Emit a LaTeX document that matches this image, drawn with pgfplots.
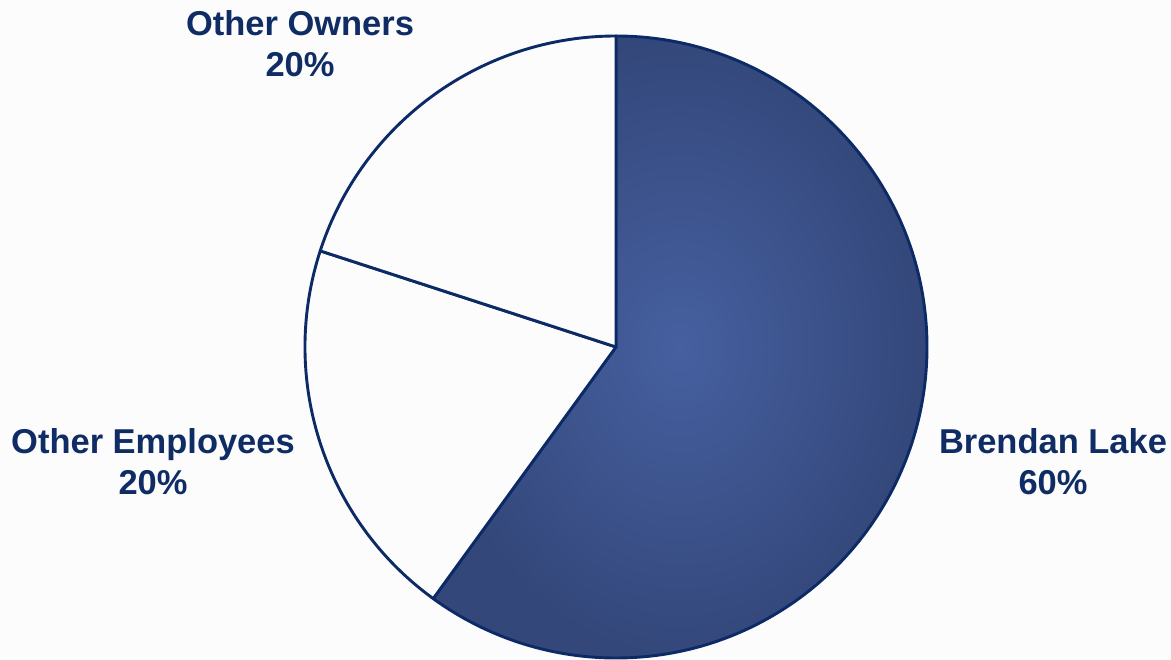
\documentclass[border=0pt]{standalone}
\usepackage{pgfplots}
\pgfplotsset{compat=1.18}
\usepackage{fontspec}
\setmainfont{Liberation Sans}
\definecolor{pieIn}{HTML}{4660A0}
\definecolor{pieOut}{HTML}{33477A}
\definecolor{pieLine}{HTML}{0C2A66}
\definecolor{labelCol}{HTML}{0F2C64}
\definecolor{bg}{HTML}{FCFCFC}
% shares in percent
\def\shareA{60}% Brendan Lake
\def\shareB{20}% Other Employees
\def\shareC{20}% Other Owners
\pgfmathsetmacro\aA{90-3.6*\shareA}
\pgfmathsetmacro\aB{\aA-3.6*\shareB}
\pgfmathsetmacro\aC{\aB-3.6*\shareC}
\begin{document}
\begin{tikzpicture}
\begin{axis}[
    scale only axis,
    width=1171bp, height=658bp,
    xmin=0, xmax=1171, ymin=0, ymax=658,
    hide axis,
    clip=false,
    ]
    \fill[bg] (axis cs:0,0) rectangle (axis cs:1171,658);
    \shadedraw[inner color=pieIn, outer color=pieOut, draw=pieLine, line width=2.9bp, line join=round]
        (axis cs:616,311) -- ++(90:311bp) arc[start angle=90, end angle=\aA, radius=311bp] -- cycle;
    \filldraw[fill=bg, draw=pieLine, line width=2.9bp, line join=round]
        (axis cs:616,311) -- ++(\aA:311bp) arc[start angle=\aA, end angle=\aB, radius=311bp] -- cycle;
    \filldraw[fill=bg, draw=pieLine, line width=2.9bp, line join=round]
        (axis cs:616,311) -- ++(\aB:311bp) arc[start angle=\aB, end angle=\aC, radius=311bp] -- cycle;
    \begin{scope}[every node/.style={align=center, text=labelCol, font=\fontsize{34.6}{41}\selectfont\bfseries}]
    \node at (axis cs:1053,196) {Brendan Lake\\\shareA\%};
    \node at (axis cs:153,196) {Other Employees\\\shareB\%};
    \node at (axis cs:300,614) {Other Owners\\\shareC\%};
    \end{scope}
\end{axis}
\end{tikzpicture}
\end{document}
